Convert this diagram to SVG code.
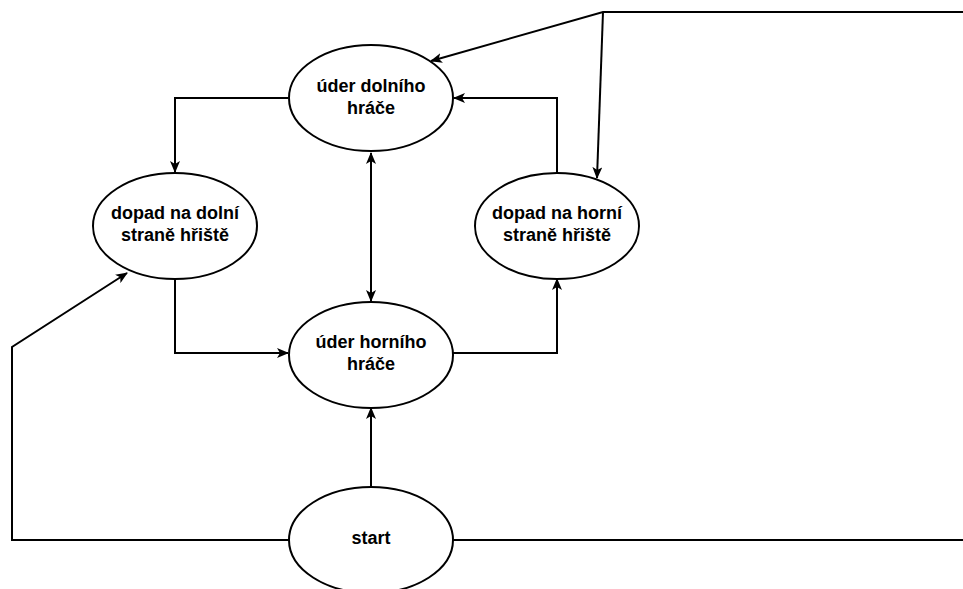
<svg xmlns="http://www.w3.org/2000/svg" width="963" height="589" viewBox="0 0 963 589">
  <style>
    .node ellipse { fill: #ffffff; stroke: #000000; stroke-width: 2; }
    .node text { font-family: "Liberation Sans", Arial, sans-serif; font-weight: bold; font-size: 18px; fill: #000000; text-anchor: middle; }
    #connectors path { fill: none; stroke: #000000; stroke-width: 2; }
  </style>
  <defs>
    <marker id="arrow" viewBox="0 0 12 10" refX="11" refY="5" markerWidth="12" markerHeight="10" markerUnits="userSpaceOnUse" orient="auto-start-reverse">
      <path d="M0,0 L12,5 L0,10 L3,5 z" fill="#000000"/>
    </marker>
  </defs>
  <rect width="963" height="589" fill="#ffffff"/>

  <g id="connectors">
    <path d="M288,98 H175 V172" marker-end="url(#arrow)"/>
    <path d="M175,279 V353 H288" marker-end="url(#arrow)"/>
    <path d="M453,353 H557 V279" marker-end="url(#arrow)"/>
    <path d="M557,173 V98 H454" marker-end="url(#arrow)"/>
    <path d="M371,153 V301" marker-start="url(#arrow)" marker-end="url(#arrow)"/>
    <path d="M371,487 V408" marker-end="url(#arrow)"/>
    <path d="M289,540 H12 V347 L127,273" marker-end="url(#arrow)"/>
    <path d="M453,540 H965"/>
    <path d="M965,12 H603 L431,61" marker-end="url(#arrow)"/>
    <path d="M603,12 L597,178" marker-end="url(#arrow)"/>
  </g>

  <g id="uder-dolniho" class="node">
    <ellipse cx="371" cy="98" rx="82" ry="53"/>
    <text x="371" y="92">úder dolního</text>
    <text x="371" y="114">hráče</text>
  </g>

  <g id="dopad-dolni" class="node">
    <ellipse cx="175" cy="226" rx="82" ry="53"/>
    <text x="175" y="219">dopad na dolní</text>
    <text x="175" y="241">straně hřiště</text>
  </g>

  <g id="dopad-horni" class="node">
    <ellipse cx="557" cy="226" rx="82" ry="53"/>
    <text x="557" y="219">dopad na horní</text>
    <text x="557" y="241">straně hřiště</text>
  </g>

  <g id="uder-horniho" class="node">
    <ellipse cx="371" cy="355" rx="82" ry="53"/>
    <text x="371" y="348">úder horního</text>
    <text x="371" y="370">hráče</text>
  </g>

  <g id="start" class="node">
    <ellipse cx="371" cy="540" rx="82" ry="53"/>
    <text x="371" y="544">start</text>
  </g>
</svg>
